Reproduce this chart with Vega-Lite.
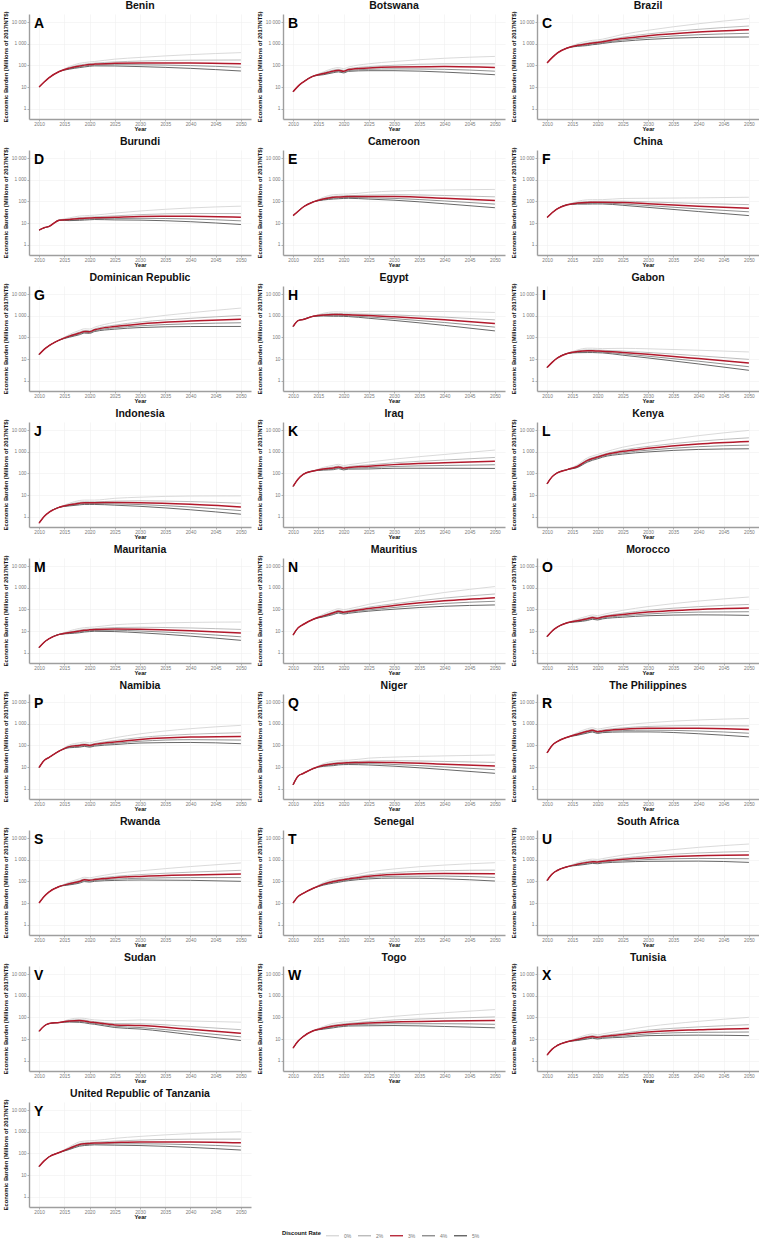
{
  "$schema": "https://vega.github.io/schema/vega-lite/v6.json",
  "padding": {"left": 2, "top": 0, "right": 0, "bottom": 0},
  "background": "white",
  "config": {
    "font": "Liberation Sans",
    "view": {"stroke": null},
    "axis": {
      "domainColor": "#9e9e9e", "domainWidth": 1.4,
      "tickColor": "#9e9e9e", "tickSize": 2, "tickWidth": 0.8,
      "gridColor": "#f0f0f0", "gridWidth": 0.6,
      "labelColor": "#7a7a7a", "labelFontSize": 4.8, "labelPadding": 1, "labelOverlap": false,
      "titleColor": "#111", "titleFontSize": 5.8, "titleFontWeight": "bold"
    },
    "legend": {"layout": {"bottom": {"anchor": "middle"}}}
  },
  "data": {"values": [
    {"c":"Benin","L":"A","yr":2010,"0%":10,"2%":10,"3%":10,"4%":10,"5%":10},
    {"c":"Benin","yr":2011,"0%":17,"2%":17,"3%":17,"4%":17,"5%":17},
    {"c":"Benin","yr":2012,"0%":27,"2%":27,"3%":27,"4%":27,"5%":27},
    {"c":"Benin","yr":2014,"0%":52,"2%":52,"3%":52,"4%":52,"5%":52},
    {"c":"Benin","yr":2016,"0%":89,"2%":80,"3%":75,"4%":70,"5%":67},
    {"c":"Benin","yr":2018,"0%":125,"2%":105,"3%":95,"4%":86,"5%":79},
    {"c":"Benin","yr":2019,"0%":136,"2%":113,"3%":103,"4%":94,"5%":85},
    {"c":"Benin","yr":2020,"0%":145,"2%":121,"3%":110,"4%":100,"5%":91},
    {"c":"Benin","yr":2021,"0%":152,"2%":127,"3%":115,"4%":105,"5%":95},
    {"c":"Benin","yr":2025,"0%":195,"2%":145,"3%":125,"4%":108,"5%":94},
    {"c":"Benin","yr":2030,"0%":234,"2%":159,"3%":130,"4%":107,"5%":88},
    {"c":"Benin","yr":2040,"0%":316,"2%":174,"3%":130,"4%":98,"5%":73},
    {"c":"Benin","yr":2050,"0%":391,"2%":178,"3%":120,"4%":82,"5%":55},

    {"c":"Botswana","L":"B","yr":2010,"0%":6,"2%":6,"3%":6,"4%":6,"5%":6},
    {"c":"Botswana","yr":2011,"0%":11,"2%":11,"3%":11,"4%":11,"5%":11},
    {"c":"Botswana","yr":2012,"0%":17,"2%":17,"3%":17,"4%":17,"5%":17},
    {"c":"Botswana","yr":2014,"0%":32,"2%":32,"3%":32,"4%":32,"5%":32},
    {"c":"Botswana","yr":2016,"0%":50,"2%":45,"3%":42,"4%":39,"5%":37},
    {"c":"Botswana","yr":2018,"0%":73,"2%":61,"3%":55,"4%":50,"5%":46},
    {"c":"Botswana","yr":2019,"0%":79,"2%":66,"3%":60,"4%":55,"5%":50},
    {"c":"Botswana","yr":2020,"0%":71,"2%":59,"3%":54,"4%":49,"5%":45},
    {"c":"Botswana","yr":2021,"0%":84,"2%":70,"3%":64,"4%":58,"5%":53},
    {"c":"Botswana","yr":2025,"0%":119,"2%":88,"3%":76,"4%":66,"5%":57},
    {"c":"Botswana","yr":2030,"0%":151,"2%":102,"3%":84,"4%":69,"5%":57},
    {"c":"Botswana","yr":2040,"0%":214,"2%":118,"3%":88,"4%":66,"5%":49},
    {"c":"Botswana","yr":2050,"0%":261,"2%":118,"3%":80,"4%":54,"5%":37},

    {"c":"Brazil","L":"C","yr":2010,"0%":130,"2%":130,"3%":130,"4%":130,"5%":130},
    {"c":"Brazil","yr":2011,"0%":230,"2%":230,"3%":230,"4%":230,"5%":230},
    {"c":"Brazil","yr":2012,"0%":370,"2%":370,"3%":370,"4%":370,"5%":370},
    {"c":"Brazil","yr":2014,"0%":640,"2%":640,"3%":640,"4%":640,"5%":640},
    {"c":"Brazil","yr":2016,"0%":1010,"2%":900,"3%":850,"4%":800,"5%":760},
    {"c":"Brazil","yr":2018,"0%":1320,"2%":1100,"3%":1000,"4%":910,"5%":830},
    {"c":"Brazil","yr":2019,"0%":1450,"2%":1210,"3%":1100,"4%":1000,"5%":910},
    {"c":"Brazil","yr":2020,"0%":1520,"2%":1270,"3%":1150,"4%":1050,"5%":950},
    {"c":"Brazil","yr":2021,"0%":1650,"2%":1380,"3%":1250,"4%":1140,"5%":1040},
    {"c":"Brazil","yr":2025,"0%":2730,"2%":2030,"3%":1750,"4%":1510,"5%":1310},
    {"c":"Brazil","yr":2030,"0%":4230,"2%":2870,"3%":2350,"4%":1930,"5%":1600},
    {"c":"Brazil","yr":2040,"0%":8500,"2%":4690,"3%":3500,"4%":2630,"5%":1960},
    {"c":"Brazil","yr":2050,"0%":14700,"2%":6660,"3%":4500,"4%":3060,"5%":2070},

    {"c":"Burundi","L":"D","yr":2010,"0%":4.7,"2%":4.7,"3%":4.7,"4%":4.7,"5%":4.7},
    {"c":"Burundi","yr":2011,"0%":6,"2%":6,"3%":6,"4%":6,"5%":6},
    {"c":"Burundi","yr":2012,"0%":7,"2%":7,"3%":7,"4%":7,"5%":7},
    {"c":"Burundi","yr":2014,"0%":13.5,"2%":13.5,"3%":13.5,"4%":13.5,"5%":13.5},
    {"c":"Burundi","yr":2016,"0%":17.3,"2%":15.4,"3%":14.5,"4%":13.6,"5%":12.9},
    {"c":"Burundi","yr":2018,"0%":21,"2%":17.6,"3%":16,"4%":14.6,"5%":13.3},
    {"c":"Burundi","yr":2019,"0%":21.8,"2%":18.2,"3%":16.5,"4%":15,"5%":13.7},
    {"c":"Burundi","yr":2020,"0%":22.4,"2%":18.7,"3%":17,"4%":15.5,"5%":14.1},
    {"c":"Burundi","yr":2021,"0%":23.1,"2%":19.3,"3%":17.5,"4%":15.9,"5%":14.5},
    {"c":"Burundi","yr":2025,"0%":28.9,"2%":21.5,"3%":18.5,"4%":16,"5%":13.9},
    {"c":"Burundi","yr":2030,"0%":36,"2%":24.4,"3%":20,"4%":16.4,"5%":13.6},
    {"c":"Burundi","yr":2040,"0%":49.8,"2%":27.5,"3%":20.5,"4%":15.4,"5%":11.5},
    {"c":"Burundi","yr":2050,"0%":60.3,"2%":27.4,"3%":18.5,"4%":12.6,"5%":8.5},

    {"c":"Cameroon","L":"E","yr":2010,"0%":22,"2%":22,"3%":22,"4%":22,"5%":22},
    {"c":"Cameroon","yr":2011,"0%":35,"2%":35,"3%":35,"4%":35,"5%":35},
    {"c":"Cameroon","yr":2012,"0%":55,"2%":55,"3%":55,"4%":55,"5%":55},
    {"c":"Cameroon","yr":2014,"0%":95,"2%":95,"3%":95,"4%":95,"5%":95},
    {"c":"Cameroon","yr":2016,"0%":155,"2%":138,"3%":130,"4%":122,"5%":116},
    {"c":"Cameroon","yr":2018,"0%":205,"2%":171,"3%":155,"4%":141,"5%":129},
    {"c":"Cameroon","yr":2019,"0%":211,"2%":176,"3%":160,"4%":146,"5%":133},
    {"c":"Cameroon","yr":2020,"0%":218,"2%":182,"3%":165,"4%":150,"5%":137},
    {"c":"Cameroon","yr":2021,"0%":220,"2%":184,"3%":167,"4%":152,"5%":139},
    {"c":"Cameroon","yr":2025,"0%":265,"2%":197,"3%":170,"4%":147,"5%":128},
    {"c":"Cameroon","yr":2030,"0%":302,"2%":205,"3%":168,"4%":138,"5%":114},
    {"c":"Cameroon","yr":2040,"0%":340,"2%":188,"3%":140,"4%":105,"5%":78},
    {"c":"Cameroon","yr":2050,"0%":359,"2%":163,"3%":110,"4%":75,"5%":51},

    {"c":"China","L":"F","yr":2010,"0%":18,"2%":18,"3%":18,"4%":18,"5%":18},
    {"c":"China","yr":2011,"0%":30,"2%":30,"3%":30,"4%":30,"5%":30},
    {"c":"China","yr":2012,"0%":45,"2%":45,"3%":45,"4%":45,"5%":45},
    {"c":"China","yr":2014,"0%":70,"2%":70,"3%":70,"4%":70,"5%":70},
    {"c":"China","yr":2016,"0%":100,"2%":89,"3%":84,"4%":79,"5%":75},
    {"c":"China","yr":2018,"0%":119,"2%":99,"3%":90,"4%":82,"5%":75},
    {"c":"China","yr":2019,"0%":120,"2%":100,"3%":91,"4%":83,"5%":76},
    {"c":"China","yr":2020,"0%":121,"2%":101,"3%":92,"4%":84,"5%":76},
    {"c":"China","yr":2021,"0%":121,"2%":101,"3%":92,"4%":84,"5%":76},
    {"c":"China","yr":2025,"0%":137,"2%":102,"3%":88,"4%":76,"5%":66},
    {"c":"China","yr":2030,"0%":140,"2%":95,"3%":78,"4%":64,"5%":53},
    {"c":"China","yr":2040,"0%":146,"2%":80,"3%":60,"4%":45,"5%":34},
    {"c":"China","yr":2050,"0%":156,"2%":71,"3%":48,"4%":33,"5%":22},

    {"c":"Dominican Republic","L":"G","yr":2010,"0%":16,"2%":16,"3%":16,"4%":16,"5%":16},
    {"c":"Dominican Republic","yr":2011,"0%":28,"2%":28,"3%":28,"4%":28,"5%":28},
    {"c":"Dominican Republic","yr":2012,"0%":42,"2%":42,"3%":42,"4%":42,"5%":42},
    {"c":"Dominican Republic","yr":2014,"0%":75,"2%":75,"3%":75,"4%":75,"5%":75},
    {"c":"Dominican Republic","yr":2016,"0%":137,"2%":122,"3%":115,"4%":108,"5%":102},
    {"c":"Dominican Republic","yr":2018,"0%":211,"2%":176,"3%":160,"4%":146,"5%":133},
    {"c":"Dominican Republic","yr":2019,"0%":251,"2%":209,"3%":190,"4%":173,"5%":158},
    {"c":"Dominican Republic","yr":2020,"0%":244,"2%":204,"3%":185,"4%":168,"5%":154},
    {"c":"Dominican Republic","yr":2021,"0%":297,"2%":248,"3%":225,"4%":205,"5%":187},
    {"c":"Dominican Republic","yr":2025,"0%":499,"2%":371,"3%":320,"4%":277,"5%":240},
    {"c":"Dominican Republic","yr":2030,"0%":756,"2%":512,"3%":420,"4%":344,"5%":286},
    {"c":"Dominican Republic","yr":2040,"0%":1385,"2%":764,"3%":570,"4%":428,"5%":319},
    {"c":"Dominican Republic","yr":2050,"0%":2282,"2%":1036,"3%":700,"4%":476,"5%":322},

    {"c":"Egypt","L":"H","yr":2010,"0%":320,"2%":320,"3%":320,"4%":320,"5%":320},
    {"c":"Egypt","yr":2011,"0%":600,"2%":600,"3%":600,"4%":600,"5%":600},
    {"c":"Egypt","yr":2012,"0%":680,"2%":680,"3%":680,"4%":680,"5%":680},
    {"c":"Egypt","yr":2014,"0%":950,"2%":950,"3%":950,"4%":950,"5%":950},
    {"c":"Egypt","yr":2016,"0%":1310,"2%":1170,"3%":1100,"4%":1030,"5%":980},
    {"c":"Egypt","yr":2018,"0%":1520,"2%":1270,"3%":1150,"4%":1050,"5%":950},
    {"c":"Egypt","yr":2019,"0%":1520,"2%":1270,"3%":1150,"4%":1050,"5%":950},
    {"c":"Egypt","yr":2020,"0%":1490,"2%":1240,"3%":1130,"4%":1030,"5%":940},
    {"c":"Egypt","yr":2021,"0%":1470,"2%":1220,"3%":1110,"4%":1010,"5%":920},
    {"c":"Egypt","yr":2025,"0%":1610,"2%":1190,"3%":1030,"4%":890,"5%":770},
    {"c":"Egypt","yr":2030,"0%":1620,"2%":1100,"3%":900,"4%":740,"5%":610},
    {"c":"Egypt","yr":2040,"0%":1580,"2%":870,"3%":650,"4%":490,"5%":360},
    {"c":"Egypt","yr":2050,"0%":1430,"2%":650,"3%":440,"4%":300,"5%":200},

    {"c":"Gabon","L":"I","yr":2010,"0%":4,"2%":4,"3%":4,"4%":4,"5%":4},
    {"c":"Gabon","yr":2011,"0%":7,"2%":7,"3%":7,"4%":7,"5%":7},
    {"c":"Gabon","yr":2012,"0%":11,"2%":11,"3%":11,"4%":11,"5%":11},
    {"c":"Gabon","yr":2014,"0%":18,"2%":18,"3%":18,"4%":18,"5%":18},
    {"c":"Gabon","yr":2016,"0%":26.2,"2%":23.3,"3%":22,"4%":20.7,"5%":19.6},
    {"c":"Gabon","yr":2018,"0%":31.7,"2%":26.4,"3%":24,"4%":21.8,"5%":19.9},
    {"c":"Gabon","yr":2019,"0%":31.7,"2%":26.4,"3%":24,"4%":21.8,"5%":19.9},
    {"c":"Gabon","yr":2020,"0%":31,"2%":25.9,"3%":23.5,"4%":21.4,"5%":19.5},
    {"c":"Gabon","yr":2021,"0%":30.4,"2%":25.3,"3%":23,"4%":20.9,"5%":19.1},
    {"c":"Gabon","yr":2025,"0%":31.2,"2%":23.2,"3%":20,"4%":17.3,"5%":15},
    {"c":"Gabon","yr":2030,"0%":29.7,"2%":20.1,"3%":16.5,"4%":13.5,"5%":11.2},
    {"c":"Gabon","yr":2040,"0%":25.5,"2%":14.1,"3%":10.5,"4%":7.9,"5%":5.9},
    {"c":"Gabon","yr":2050,"0%":21.2,"2%":9.6,"3%":6.5,"4%":4.4,"5%":3},

    {"c":"Indonesia","L":"J","yr":2010,"0%":0.5,"2%":0.5,"3%":0.5,"4%":0.5,"5%":0.5},
    {"c":"Indonesia","yr":2011,"0%":1,"2%":1,"3%":1,"4%":1,"5%":1},
    {"c":"Indonesia","yr":2012,"0%":1.6,"2%":1.6,"3%":1.6,"4%":1.6,"5%":1.6},
    {"c":"Indonesia","yr":2014,"0%":2.7,"2%":2.7,"3%":2.7,"4%":2.7,"5%":2.7},
    {"c":"Indonesia","yr":2016,"0%":4.17,"2%":3.71,"3%":3.5,"4%":3.29,"5%":3.12},
    {"c":"Indonesia","yr":2018,"0%":5.54,"2%":4.62,"3%":4.2,"4%":3.82,"5%":3.49},
    {"c":"Indonesia","yr":2019,"0%":5.81,"2%":4.84,"3%":4.4,"4%":4,"5%":3.65},
    {"c":"Indonesia","yr":2020,"0%":5.81,"2%":4.84,"3%":4.4,"4%":4,"5%":3.65},
    {"c":"Indonesia","yr":2021,"0%":5.81,"2%":4.84,"3%":4.4,"4%":4,"5%":3.65},
    {"c":"Indonesia","yr":2025,"0%":7.02,"2%":5.22,"3%":4.5,"4%":3.89,"5%":3.38},
    {"c":"Indonesia","yr":2030,"0%":7.92,"2%":5.37,"3%":4.4,"4%":3.61,"5%":2.99},
    {"c":"Indonesia","yr":2040,"0%":8.99,"2%":4.96,"3%":3.7,"4%":2.78,"5%":2.07},
    {"c":"Indonesia","yr":2050,"0%":9.13,"2%":4.14,"3%":2.8,"4%":1.9,"5%":1.29},

    {"c":"Iraq","L":"K","yr":2010,"0%":25,"2%":25,"3%":25,"4%":25,"5%":25},
    {"c":"Iraq","yr":2011,"0%":55,"2%":55,"3%":55,"4%":55,"5%":55},
    {"c":"Iraq","yr":2012,"0%":90,"2%":90,"3%":90,"4%":90,"5%":90},
    {"c":"Iraq","yr":2014,"0%":130,"2%":130,"3%":130,"4%":130,"5%":130},
    {"c":"Iraq","yr":2016,"0%":190,"2%":170,"3%":160,"4%":150,"5%":142},
    {"c":"Iraq","yr":2018,"0%":238,"2%":198,"3%":180,"4%":164,"5%":149},
    {"c":"Iraq","yr":2019,"0%":264,"2%":220,"3%":200,"4%":182,"5%":166},
    {"c":"Iraq","yr":2020,"0%":231,"2%":193,"3%":175,"4%":159,"5%":145},
    {"c":"Iraq","yr":2021,"0%":251,"2%":209,"3%":190,"4%":173,"5%":158},
    {"c":"Iraq","yr":2025,"0%":335,"2%":249,"3%":215,"4%":186,"5%":161},
    {"c":"Iraq","yr":2030,"0%":459,"2%":311,"3%":255,"4%":209,"5%":173},
    {"c":"Iraq","yr":2040,"0%":753,"2%":415,"3%":310,"4%":233,"5%":174},
    {"c":"Iraq","yr":2050,"0%":1206,"2%":548,"3%":370,"4%":252,"5%":170},

    {"c":"Kenya","L":"L","yr":2010,"0%":33,"2%":33,"3%":33,"4%":33,"5%":33},
    {"c":"Kenya","yr":2011,"0%":70,"2%":70,"3%":70,"4%":70,"5%":70},
    {"c":"Kenya","yr":2012,"0%":105,"2%":105,"3%":105,"4%":105,"5%":105},
    {"c":"Kenya","yr":2014,"0%":150,"2%":150,"3%":150,"4%":150,"5%":150},
    {"c":"Kenya","yr":2016,"0%":250,"2%":223,"3%":210,"4%":197,"5%":187},
    {"c":"Kenya","yr":2018,"0%":528,"2%":440,"3%":400,"4%":364,"5%":332},
    {"c":"Kenya","yr":2019,"0%":647,"2%":539,"3%":490,"4%":446,"5%":407},
    {"c":"Kenya","yr":2020,"0%":752,"2%":627,"3%":570,"4%":519,"5%":473},
    {"c":"Kenya","yr":2021,"0%":898,"2%":748,"3%":680,"4%":619,"5%":564},
    {"c":"Kenya","yr":2025,"0%":1638,"2%":1218,"3%":1050,"4%":908,"5%":788},
    {"c":"Kenya","yr":2030,"0%":2610,"2%":1769,"3%":1450,"4%":1189,"5%":986},
    {"c":"Kenya","yr":2040,"0%":5589,"2%":3082,"3%":2300,"4%":1725,"5%":1288},
    {"c":"Kenya","yr":2050,"0%":9780,"2%":4440,"3%":3000,"4%":2040,"5%":1380},

    {"c":"Mauritania","L":"M","yr":2010,"0%":1.7,"2%":1.7,"3%":1.7,"4%":1.7,"5%":1.7},
    {"c":"Mauritania","yr":2011,"0%":3,"2%":3,"3%":3,"4%":3,"5%":3},
    {"c":"Mauritania","yr":2012,"0%":4.4,"2%":4.4,"3%":4.4,"4%":4.4,"5%":4.4},
    {"c":"Mauritania","yr":2014,"0%":7,"2%":7,"3%":7,"4%":7,"5%":7},
    {"c":"Mauritania","yr":2016,"0%":10.1,"2%":9,"3%":8.5,"4%":8,"5%":7.6},
    {"c":"Mauritania","yr":2018,"0%":13.2,"2%":11,"3%":10,"4%":9.1,"5%":8.3},
    {"c":"Mauritania","yr":2019,"0%":14.3,"2%":11.9,"3%":10.8,"4%":9.8,"5%":9},
    {"c":"Mauritania","yr":2020,"0%":14.9,"2%":12.4,"3%":11.3,"4%":10.3,"5%":9.4},
    {"c":"Mauritania","yr":2021,"0%":15.4,"2%":12.9,"3%":11.7,"4%":10.6,"5%":9.7},
    {"c":"Mauritania","yr":2025,"0%":19.5,"2%":14.5,"3%":12.5,"4%":10.8,"5%":9.4},
    {"c":"Mauritania","yr":2030,"0%":22,"2%":14.9,"3%":12.2,"4%":10,"5%":8.3},
    {"c":"Mauritania","yr":2040,"0%":25,"2%":13.8,"3%":10.3,"4%":7.7,"5%":5.8},
    {"c":"Mauritania","yr":2050,"0%":26.1,"2%":11.8,"3%":8,"4%":5.4,"5%":3.7},

    {"c":"Mauritius","L":"N","yr":2010,"0%":6.5,"2%":6.5,"3%":6.5,"4%":6.5,"5%":6.5},
    {"c":"Mauritius","yr":2011,"0%":14,"2%":14,"3%":14,"4%":14,"5%":14},
    {"c":"Mauritius","yr":2012,"0%":20,"2%":20,"3%":20,"4%":20,"5%":20},
    {"c":"Mauritius","yr":2014,"0%":35,"2%":35,"3%":35,"4%":35,"5%":35},
    {"c":"Mauritius","yr":2016,"0%":60,"2%":53,"3%":50,"4%":47,"5%":45},
    {"c":"Mauritius","yr":2018,"0%":92,"2%":77,"3%":70,"4%":64,"5%":58},
    {"c":"Mauritius","yr":2019,"0%":108,"2%":90,"3%":82,"4%":75,"5%":68},
    {"c":"Mauritius","yr":2020,"0%":98,"2%":81,"3%":74,"4%":67,"5%":61},
    {"c":"Mauritius","yr":2021,"0%":106,"2%":88,"3%":80,"4%":73,"5%":66},
    {"c":"Mauritius","yr":2025,"0%":172,"2%":128,"3%":110,"4%":95,"5%":83},
    {"c":"Mauritius","yr":2030,"0%":270,"2%":183,"3%":150,"4%":123,"5%":102},
    {"c":"Mauritius","yr":2040,"0%":608,"2%":335,"3%":250,"4%":188,"5%":140},
    {"c":"Mauritius","yr":2050,"0%":1141,"2%":518,"3%":350,"4%":238,"5%":161},

    {"c":"Morocco","L":"O","yr":2010,"0%":5.5,"2%":5.5,"3%":5.5,"4%":5.5,"5%":5.5},
    {"c":"Morocco","yr":2011,"0%":10,"2%":10,"3%":10,"4%":10,"5%":10},
    {"c":"Morocco","yr":2012,"0%":15,"2%":15,"3%":15,"4%":15,"5%":15},
    {"c":"Morocco","yr":2014,"0%":24,"2%":24,"3%":24,"4%":24,"5%":24},
    {"c":"Morocco","yr":2016,"0%":35.7,"2%":31.8,"3%":30,"4%":28.2,"5%":26.7},
    {"c":"Morocco","yr":2018,"0%":48.8,"2%":40.7,"3%":37,"4%":33.7,"5%":30.7},
    {"c":"Morocco","yr":2019,"0%":55.4,"2%":46.2,"3%":42,"4%":38.2,"5%":34.9},
    {"c":"Morocco","yr":2020,"0%":51.5,"2%":42.9,"3%":39,"4%":35.5,"5%":32.4},
    {"c":"Morocco","yr":2021,"0%":58.1,"2%":48.4,"3%":44,"4%":40,"5%":36.5},
    {"c":"Morocco","yr":2025,"0%":90.5,"2%":67.3,"3%":58,"4%":50.2,"5%":43.5},
    {"c":"Morocco","yr":2030,"0%":135,"2%":91.5,"3%":75,"4%":61.5,"5%":51},
    {"c":"Morocco","yr":2040,"0%":243,"2%":134,"3%":100,"4%":75,"5%":56},
    {"c":"Morocco","yr":2050,"0%":375,"2%":170,"3%":115,"4%":78,"5%":53},

    {"c":"Namibia","L":"P","yr":2010,"0%":9.5,"2%":9.5,"3%":9.5,"4%":9.5,"5%":9.5},
    {"c":"Namibia","yr":2011,"0%":20,"2%":20,"3%":20,"4%":20,"5%":20},
    {"c":"Namibia","yr":2012,"0%":28,"2%":28,"3%":28,"4%":28,"5%":28},
    {"c":"Namibia","yr":2014,"0%":55,"2%":55,"3%":55,"4%":55,"5%":55},
    {"c":"Namibia","yr":2016,"0%":105,"2%":93,"3%":88,"4%":83,"5%":78},
    {"c":"Namibia","yr":2018,"0%":132,"2%":110,"3%":100,"4%":91,"5%":83},
    {"c":"Namibia","yr":2019,"0%":143,"2%":119,"3%":108,"4%":98,"5%":90},
    {"c":"Namibia","yr":2020,"0%":132,"2%":110,"3%":100,"4%":91,"5%":83},
    {"c":"Namibia","yr":2021,"0%":148,"2%":123,"3%":112,"4%":102,"5%":93},
    {"c":"Namibia","yr":2025,"0%":226,"2%":168,"3%":145,"4%":125,"5%":109},
    {"c":"Namibia","yr":2030,"0%":342,"2%":232,"3%":190,"4%":156,"5%":129},
    {"c":"Namibia","yr":2040,"0%":595,"2%":328,"3%":245,"4%":184,"5%":137},
    {"c":"Namibia","yr":2050,"0%":848,"2%":385,"3%":260,"4%":177,"5%":120},

    {"c":"Niger","L":"Q","yr":2010,"0%":1.5,"2%":1.5,"3%":1.5,"4%":1.5,"5%":1.5},
    {"c":"Niger","yr":2011,"0%":3.8,"2%":3.8,"3%":3.8,"4%":3.8,"5%":3.8},
    {"c":"Niger","yr":2012,"0%":5,"2%":5,"3%":5,"4%":5,"5%":5},
    {"c":"Niger","yr":2014,"0%":8.5,"2%":8.5,"3%":8.5,"4%":8.5,"5%":8.5},
    {"c":"Niger","yr":2016,"0%":14.3,"2%":12.7,"3%":12,"4%":11.3,"5%":10.7},
    {"c":"Niger","yr":2018,"0%":18.5,"2%":15.4,"3%":14,"4%":12.7,"5%":11.6},
    {"c":"Niger","yr":2019,"0%":19.8,"2%":16.5,"3%":15,"4%":13.7,"5%":12.5},
    {"c":"Niger","yr":2020,"0%":20.5,"2%":17.1,"3%":15.5,"4%":14.1,"5%":12.9},
    {"c":"Niger","yr":2021,"0%":20.7,"2%":17.3,"3%":15.7,"4%":14.3,"5%":13},
    {"c":"Niger","yr":2025,"0%":25.7,"2%":19.1,"3%":16.5,"4%":14.3,"5%":12.4},
    {"c":"Niger","yr":2030,"0%":28.8,"2%":19.5,"3%":16,"4%":13.1,"5%":10.9},
    {"c":"Niger","yr":2040,"0%":32.8,"2%":18.1,"3%":13.5,"4%":10.1,"5%":7.6},
    {"c":"Niger","yr":2050,"0%":35.9,"2%":16.3,"3%":11,"4%":7.5,"5%":5.1},

    {"c":"The Philippines","L":"R","yr":2010,"0%":45,"2%":45,"3%":45,"4%":45,"5%":45},
    {"c":"The Philippines","yr":2011,"0%":100,"2%":100,"3%":100,"4%":100,"5%":100},
    {"c":"The Philippines","yr":2012,"0%":150,"2%":150,"3%":150,"4%":150,"5%":150},
    {"c":"The Philippines","yr":2014,"0%":240,"2%":240,"3%":240,"4%":240,"5%":240},
    {"c":"The Philippines","yr":2016,"0%":393,"2%":350,"3%":330,"4%":310,"5%":294},
    {"c":"The Philippines","yr":2018,"0%":594,"2%":495,"3%":450,"4%":410,"5%":374},
    {"c":"The Philippines","yr":2019,"0%":660,"2%":550,"3%":500,"4%":455,"5%":415},
    {"c":"The Philippines","yr":2020,"0%":568,"2%":473,"3%":430,"4%":391,"5%":357},
    {"c":"The Philippines","yr":2021,"0%":620,"2%":517,"3%":470,"4%":428,"5%":390},
    {"c":"The Philippines","yr":2025,"0%":874,"2%":650,"3%":560,"4%":484,"5%":420},
    {"c":"The Philippines","yr":2030,"0%":1116,"2%":756,"3%":620,"4%":508,"5%":422},
    {"c":"The Philippines","yr":2040,"0%":1507,"2%":831,"3%":620,"4%":465,"5%":347},
    {"c":"The Philippines","yr":2050,"0%":1760,"2%":799,"3%":540,"4%":367,"5%":248},

    {"c":"Rwanda","L":"S","yr":2010,"0%":10,"2%":10,"3%":10,"4%":10,"5%":10},
    {"c":"Rwanda","yr":2011,"0%":20,"2%":20,"3%":20,"4%":20,"5%":20},
    {"c":"Rwanda","yr":2012,"0%":33,"2%":33,"3%":33,"4%":33,"5%":33},
    {"c":"Rwanda","yr":2014,"0%":58,"2%":58,"3%":58,"4%":58,"5%":58},
    {"c":"Rwanda","yr":2016,"0%":93,"2%":83,"3%":78,"4%":73,"5%":69},
    {"c":"Rwanda","yr":2018,"0%":132,"2%":110,"3%":100,"4%":91,"5%":83},
    {"c":"Rwanda","yr":2019,"0%":156,"2%":130,"3%":118,"4%":107,"5%":98},
    {"c":"Rwanda","yr":2020,"0%":148,"2%":123,"3%":112,"4%":102,"5%":93},
    {"c":"Rwanda","yr":2021,"0%":161,"2%":134,"3%":122,"4%":111,"5%":101},
    {"c":"Rwanda","yr":2025,"0%":231,"2%":172,"3%":148,"4%":128,"5%":111},
    {"c":"Rwanda","yr":2030,"0%":306,"2%":207,"3%":170,"4%":139,"5%":116},
    {"c":"Rwanda","yr":2040,"0%":486,"2%":268,"3%":200,"4%":150,"5%":112},
    {"c":"Rwanda","yr":2050,"0%":717,"2%":326,"3%":220,"4%":150,"5%":101},

    {"c":"Senegal","L":"T","yr":2010,"0%":10,"2%":10,"3%":10,"4%":10,"5%":10},
    {"c":"Senegal","yr":2011,"0%":20,"2%":20,"3%":20,"4%":20,"5%":20},
    {"c":"Senegal","yr":2012,"0%":28,"2%":28,"3%":28,"4%":28,"5%":28},
    {"c":"Senegal","yr":2014,"0%":48,"2%":48,"3%":48,"4%":48,"5%":48},
    {"c":"Senegal","yr":2016,"0%":89,"2%":80,"3%":75,"4%":71,"5%":67},
    {"c":"Senegal","yr":2018,"0%":132,"2%":110,"3%":100,"4%":91,"5%":83},
    {"c":"Senegal","yr":2019,"0%":145,"2%":121,"3%":110,"4%":100,"5%":91},
    {"c":"Senegal","yr":2020,"0%":158,"2%":132,"3%":120,"4%":109,"5%":100},
    {"c":"Senegal","yr":2021,"0%":172,"2%":143,"3%":130,"4%":118,"5%":108},
    {"c":"Senegal","yr":2025,"0%":273,"2%":203,"3%":175,"4%":151,"5%":131},
    {"c":"Senegal","yr":2030,"0%":378,"2%":256,"3%":210,"4%":172,"5%":143},
    {"c":"Senegal","yr":2040,"0%":571,"2%":315,"3%":235,"4%":176,"5%":132},
    {"c":"Senegal","yr":2050,"0%":734,"2%":333,"3%":225,"4%":153,"5%":104},

    {"c":"South Africa","L":"U","yr":2010,"0%":110,"2%":110,"3%":110,"4%":110,"5%":110},
    {"c":"South Africa","yr":2011,"0%":220,"2%":220,"3%":220,"4%":220,"5%":220},
    {"c":"South Africa","yr":2012,"0%":320,"2%":320,"3%":320,"4%":320,"5%":320},
    {"c":"South Africa","yr":2014,"0%":480,"2%":480,"3%":480,"4%":480,"5%":480},
    {"c":"South Africa","yr":2016,"0%":740,"2%":660,"3%":620,"4%":580,"5%":550},
    {"c":"South Africa","yr":2018,"0%":1000,"2%":840,"3%":760,"4%":690,"5%":630},
    {"c":"South Africa","yr":2019,"0%":1080,"2%":900,"3%":820,"4%":750,"5%":680},
    {"c":"South Africa","yr":2020,"0%":1040,"2%":870,"3%":790,"4%":720,"5%":660},
    {"c":"South Africa","yr":2021,"0%":1140,"2%":950,"3%":860,"4%":780,"5%":710},
    {"c":"South Africa","yr":2025,"0%":1640,"2%":1220,"3%":1050,"4%":910,"5%":790},
    {"c":"South Africa","yr":2030,"0%":2250,"2%":1530,"3%":1250,"4%":1030,"5%":850},
    {"c":"South Africa","yr":2040,"0%":3770,"2%":2080,"3%":1550,"4%":1160,"5%":870},
    {"c":"South Africa","yr":2050,"0%":5380,"2%":2440,"3%":1650,"4%":1120,"5%":760},

    {"c":"Sudan","L":"V","yr":2010,"0%":23,"2%":23,"3%":23,"4%":23,"5%":23},
    {"c":"Sudan","yr":2011,"0%":40,"2%":40,"3%":40,"4%":40,"5%":40},
    {"c":"Sudan","yr":2012,"0%":52,"2%":52,"3%":52,"4%":52,"5%":52},
    {"c":"Sudan","yr":2014,"0%":58,"2%":58,"3%":58,"4%":58,"5%":58},
    {"c":"Sudan","yr":2016,"0%":81,"2%":72,"3%":68,"4%":64,"5%":61},
    {"c":"Sudan","yr":2018,"0%":94,"2%":78,"3%":71,"4%":65,"5%":59},
    {"c":"Sudan","yr":2019,"0%":90,"2%":75,"3%":68,"4%":62,"5%":56},
    {"c":"Sudan","yr":2020,"0%":82,"2%":68,"3%":62,"4%":56,"5%":51},
    {"c":"Sudan","yr":2021,"0%":77,"2%":64,"3%":58,"4%":53,"5%":48},
    {"c":"Sudan","yr":2025,"0%":70,"2%":52,"3%":45,"4%":39,"5%":34},
    {"c":"Sudan","yr":2030,"0%":76,"2%":51,"3%":42,"4%":34,"5%":29},
    {"c":"Sudan","yr":2040,"0%":68,"2%":38,"3%":28,"4%":21,"5%":16},
    {"c":"Sudan","yr":2050,"0%":60,"2%":27,"3%":18.5,"4%":12.6,"5%":8.5},

    {"c":"Togo","L":"W","yr":2010,"0%":3.8,"2%":3.8,"3%":3.8,"4%":3.8,"5%":3.8},
    {"c":"Togo","yr":2011,"0%":8,"2%":8,"3%":8,"4%":8,"5%":8},
    {"c":"Togo","yr":2012,"0%":13,"2%":13,"3%":13,"4%":13,"5%":13},
    {"c":"Togo","yr":2014,"0%":24,"2%":24,"3%":24,"4%":24,"5%":24},
    {"c":"Togo","yr":2016,"0%":38,"2%":34,"3%":32,"4%":30,"5%":28.5},
    {"c":"Togo","yr":2018,"0%":53,"2%":44,"3%":40,"4%":36,"5%":33},
    {"c":"Togo","yr":2019,"0%":57,"2%":47,"3%":43,"4%":39,"5%":36},
    {"c":"Togo","yr":2020,"0%":61,"2%":51,"3%":46,"4%":42,"5%":38},
    {"c":"Togo","yr":2021,"0%":63,"2%":53,"3%":48,"4%":44,"5%":40},
    {"c":"Togo","yr":2025,"0%":86,"2%":64,"3%":55,"4%":48,"5%":41},
    {"c":"Togo","yr":2030,"0%":112,"2%":76,"3%":62,"4%":51,"5%":42},
    {"c":"Togo","yr":2040,"0%":165,"2%":91,"3%":68,"4%":51,"5%":38},
    {"c":"Togo","yr":2050,"0%":231,"2%":105,"3%":71,"4%":48,"5%":33},

    {"c":"Tunisia","L":"X","yr":2010,"0%":1.8,"2%":1.8,"3%":1.8,"4%":1.8,"5%":1.8},
    {"c":"Tunisia","yr":2011,"0%":3.4,"2%":3.4,"3%":3.4,"4%":3.4,"5%":3.4},
    {"c":"Tunisia","yr":2012,"0%":5,"2%":5,"3%":5,"4%":5,"5%":5},
    {"c":"Tunisia","yr":2014,"0%":7.5,"2%":7.5,"3%":7.5,"4%":7.5,"5%":7.5},
    {"c":"Tunisia","yr":2016,"0%":11.3,"2%":10.1,"3%":9.5,"4%":8.9,"5%":8.5},
    {"c":"Tunisia","yr":2018,"0%":15.8,"2%":13.2,"3%":12,"4%":10.9,"5%":10},
    {"c":"Tunisia","yr":2019,"0%":17.2,"2%":14.3,"3%":13,"4%":11.8,"5%":10.8},
    {"c":"Tunisia","yr":2020,"0%":15.8,"2%":13.2,"3%":12,"4%":10.9,"5%":10},
    {"c":"Tunisia","yr":2021,"0%":17.2,"2%":14.3,"3%":13,"4%":11.8,"5%":10.8},
    {"c":"Tunisia","yr":2025,"0%":25,"2%":18.6,"3%":16,"4%":13.8,"5%":12},
    {"c":"Tunisia","yr":2030,"0%":37.8,"2%":25.6,"3%":21,"4%":17.2,"5%":14.3},
    {"c":"Tunisia","yr":2040,"0%":65.6,"2%":36.2,"3%":27,"4%":20.3,"5%":15.1},
    {"c":"Tunisia","yr":2050,"0%":101,"2%":45.9,"3%":31,"4%":21.1,"5%":14.3},

    {"c":"United Republic of Tanzania","L":"Y","yr":2010,"0%":25,"2%":25,"3%":25,"4%":25,"5%":25},
    {"c":"United Republic of Tanzania","yr":2011,"0%":45,"2%":45,"3%":45,"4%":45,"5%":45},
    {"c":"United Republic of Tanzania","yr":2012,"0%":70,"2%":70,"3%":70,"4%":70,"5%":70},
    {"c":"United Republic of Tanzania","yr":2014,"0%":110,"2%":110,"3%":110,"4%":110,"5%":110},
    {"c":"United Republic of Tanzania","yr":2016,"0%":202,"2%":180,"3%":170,"4%":160,"5%":151},
    {"c":"United Republic of Tanzania","yr":2018,"0%":343,"2%":286,"3%":260,"4%":237,"5%":216},
    {"c":"United Republic of Tanzania","yr":2019,"0%":370,"2%":308,"3%":280,"4%":255,"5%":232},
    {"c":"United Republic of Tanzania","yr":2020,"0%":383,"2%":319,"3%":290,"4%":264,"5%":241},
    {"c":"United Republic of Tanzania","yr":2021,"0%":396,"2%":330,"3%":300,"4%":273,"5%":249},
    {"c":"United Republic of Tanzania","yr":2025,"0%":499,"2%":371,"3%":320,"4%":277,"5%":240},
    {"c":"United Republic of Tanzania","yr":2030,"0%":612,"2%":415,"3%":340,"4%":279,"5%":231},
    {"c":"United Republic of Tanzania","yr":2040,"0%":826,"2%":456,"3%":340,"4%":255,"5%":190},
    {"c":"United Republic of Tanzania","yr":2050,"0%":1011,"2%":459,"3%":310,"4%":211,"5%":143}
  ]},
  "columns": 3,
  "spacing": {"row": 4, "column": 5},
  "facet": {
    "field": "c",
    "type": "nominal",
    "title": null,
    "sort": ["Benin","Botswana","Brazil","Burundi","Cameroon","China","Dominican Republic","Egypt","Gabon","Indonesia","Iraq","Kenya","Mauritania","Mauritius","Morocco","Namibia","Niger","The Philippines","Rwanda","Senegal","South Africa","Sudan","Togo","Tunisia","United Republic of Tanzania"],
    "header": {"labelFontSize": 10.5, "labelFontWeight": "bold", "labelColor": "#111", "labelPadding": 0}
  },
  "spec": {
    "width": 222,
    "height": 105,
    "encoding": {
      "x": {
        "field": "yr", "type": "quantitative",
        "scale": {"domain": [2008, 2052], "nice": false, "zero": false},
        "axis": {"title": "Year", "values": [2010,2015,2020,2025,2030,2035,2040,2045,2050], "format": "d", "labelPadding": 0, "titlePadding": 0}
      }
    },
    "layer": [
      {
        "transform": [
          {"fold": ["0%","2%","3%","4%","5%"], "as": ["r","v"]},
          {"filter": "datum.r != '3%'"}
        ],
        "mark": {"type": "line", "interpolate": "monotone", "strokeWidth": 0.9},
        "encoding": {
          "y": {
            "field": "v", "type": "quantitative",
            "scale": {"type": "log", "domain": [0.33, 24000], "nice": false},
            "axis": {"title": "Economic Burden (Millions of 2017INT$)", "values": [1,10,100,1000,10000], "labelExpr": "replace(format(datum.value, ','), ',', ' ')", "titlePadding": 3}
          },
          "color": {
            "field": "r", "type": "nominal", "title": "Discount Rate",
            "scale": {"domain": ["0%","2%","3%","4%","5%"], "range": ["#d6d6d6","#b5b5b5","#b2182b","#858585","#575757"]},
            "legend": {"orient": "bottom", "direction": "horizontal", "titleOrient": "left", "offset": 8, "symbolType": "stroke", "symbolStrokeWidth": 1.3, "symbolSize": 170, "labelFontSize": 5, "labelColor": "#777", "titleFontSize": 5.8, "titleFontWeight": "bold", "titleColor": "#111", "columnPadding": 3, "titlePadding": 4, "labelOffset": 4}
          }
        }
      },
      {
        "transform": [
          {"fold": ["0%","2%","3%","4%","5%"], "as": ["r","v"]},
          {"filter": "datum.r == '3%'"}
        ],
        "mark": {"type": "line", "interpolate": "monotone", "strokeWidth": 1.5},
        "encoding": {
          "y": {
            "field": "v", "type": "quantitative",
            "scale": {"type": "log", "domain": [0.33, 24000], "nice": false},
            "axis": {"title": "Economic Burden (Millions of 2017INT$)", "values": [1,10,100,1000,10000], "labelExpr": "replace(format(datum.value, ','), ',', ' ')", "titlePadding": 3}
          },
          "color": {"field": "r", "type": "nominal"}
        }
      },
      {
        "transform": [{"filter": "datum.yr == 2010"}],
        "mark": {"type": "text", "fontSize": 14, "fontWeight": "bold", "align": "left", "baseline": "middle", "color": "#000", "dx": -5},
        "encoding": {
          "y": {"datum": 8000, "type": "quantitative"},
          "text": {"field": "L", "type": "nominal"}
        }
      }
    ]
  },
  "resolve": {"axis": {"x": "independent", "y": "independent"}}
}
